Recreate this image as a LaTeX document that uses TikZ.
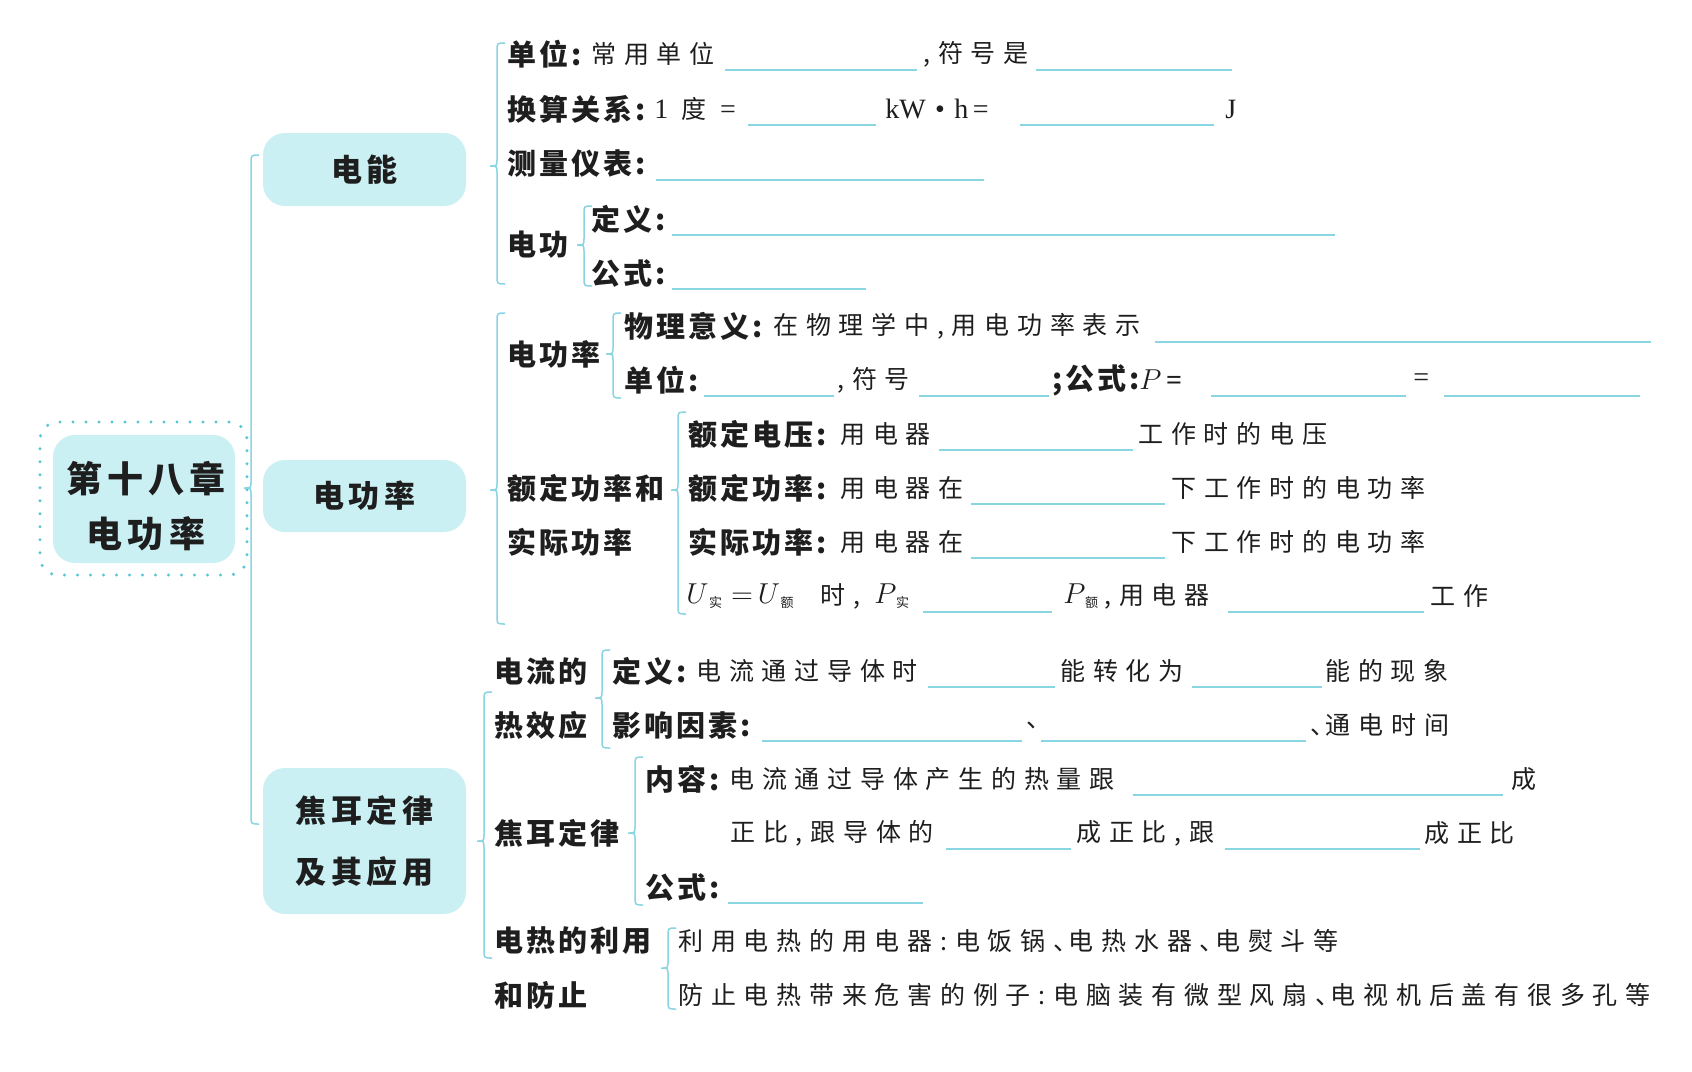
\documentclass[tikz,border=0pt]{standalone}
\usepackage{fontspec}
\setmainfont{Liberation Serif}
\newfontfamily\cjkL[LetterSpace=10]{Noto Sans CJK SC}
\newfontfamily\cjkT[LetterSpace=31]{Noto Sans CJK SC}
\newfontfamily\cjkH[LetterSpace=14]{Noto Sans CJK SC}
\newcommand\lblf{\cjkL\bfseries\fontsize{14.5pt}{16pt}\selectfont}
\newcommand\txtf{\cjkT\fontsize{12.5pt}{16pt}\selectfont}
\newcommand\lvtf{\cjkH\bfseries\fontsize{15.5pt}{30.5pt}\selectfont}
\newcommand\rootf{\cjkH\bfseries\fontsize{18pt}{27.5pt}\selectfont}
\newcommand\subc[1]{\mbox{\cjkT\fontsize{6.5pt}{7pt}\selectfont #1}}
\newcommand\mth[1]{{\fontsize{15pt}{16pt}\selectfont$#1$}}
\newcommand\lat[1]{{\rmfamily\fontsize{14pt}{16pt}\selectfont #1}}
\newcommand\dun{、\kern-0.38em}
\definecolor{ink}{HTML}{1E1E1E}
\definecolor{lncol}{HTML}{8AD5E2}
\definecolor{boxcol}{HTML}{CBF0F4}
\definecolor{dotcol}{HTML}{55C6D6}
\newcommand\brc[5]{%
  \coordinate (#1t) at (#2+8,#3);
  \coordinate (#1p) at (#2-7,#4);
  \coordinate (#1b) at (#2+8,#5);
  \draw[brline] (#1t) .. controls (#2,#3) .. (#2,#3+8) -- (#2,#4-7)
     .. controls (#2,#4) .. (#1p) .. controls (#2,#4) .. (#2,#4+7)
     -- (#2,#5-8) .. controls (#2,#5) .. (#1b);}
\tikzset{
  lbl/.style={anchor=west, inner sep=0pt, font=\lblf, text=ink},
  txt/.style={anchor=west, inner sep=0pt, font=\txtf, text=ink},
  blank/.style={draw=lncol, line width=0.8pt},
  brline/.style={draw=lncol, line width=0.75pt},
  lvtwo/.style={fill=boxcol, rounded corners=11pt, inner sep=0pt,
     minimum width=101.5pt, font=\lvtf, text=ink, align=center},
}
\begin{document}
\begin{tikzpicture}[x=0.5pt,y=-0.5pt]
\useasboundingbox[fill=white] (0,0) rectangle (1692,1071);
% root
\node[draw=dotcol, line width=1.7pt, dash pattern=on 0pt off 6.5pt, line cap=round,
      rounded corners=9pt, minimum width=103.5pt, minimum height=76.5pt, inner sep=0pt]
      (rootframe) at (143.5,498.5) {};
\node[fill=boxcol, rounded corners=11pt, minimum width=91pt, minimum height=64pt,
      inner sep=0pt] (rootbox) at (144,499) {};
\node[font=\rootf, text=ink, align=center, inner sep=0pt] (root) at (146,506) {第十八章\\电功率};
% level 2
\node[lvtwo, minimum height=36.5pt] (dn) at (364.5,169.5) {电能};
\node[lvtwo, minimum height=36pt] (dgl) at (364.5,496) {电功率};
\node[lvtwo, minimum height=73pt] (jr) at (364.5,841) {焦耳定律\\及其应用};
% spine
\brc{sp}{251}{155}{488}{824}
% ---------- 电能 ----------
\brc{bA}{497}{43}{166}{284}
\node[lbl] (a1) at (507,54) {单位:};
\node[txt] (a1t) at (591,54) {常用单位};
\draw[blank] (725,70) -- (917,70);
\node[txt] (a1u) at (923,54) {,符号是};
\draw[blank] (1036,70) -- (1232,70);
\node[lbl] (a2) at (507,109) {换算关系:};
\node[txt] (a2t) at (654,109) {\lat{1} 度 \lat{=}};
\draw[blank] (748,125) -- (876,125);
\node[txt] (a2u) at (885,109) {\lat{kW\,\,•\,\,h\,=}};
\draw[blank] (1020,125) -- (1214,125);
\node[txt] (a2j) at (1225,109) {\lat{J}};
\node[lbl] (a3) at (507,164) {测量仪表:};
\draw[blank] (656,180) -- (984,180);
\node[lbl] (a4) at (507,245) {电功};
\brc{bB}{584}{206}{245}{286}
\node[lbl] (a5) at (591,219) {定义:};
\draw[blank] (672,235) -- (1335,235);
\node[lbl] (a6) at (591,273) {公式:};
\draw[blank] (672,289) -- (866,289);
% ---------- 电功率 ----------
\brc{bC}{497}{313}{490}{624}
\node[lbl] (b1) at (507,354) {电功率};
\brc{bD}{613}{313}{354}{398}
\node[lbl] (b2) at (624,326) {物理意义:};
\node[txt] (b2t) at (773,326) {在物理学中,用电功率表示};
\draw[blank] (1155,342) -- (1651,342);
\node[lbl] (b3) at (624,380) {单位:};
\draw[blank] (704,396) -- (834,396);
\node[txt] (b3a) at (837,380) {,符号};
\draw[blank] (919,396) -- (1049,396);
\node[lbl] (b3b) at (1052,380) {;公式:\mth{P}\lat{\,=}};
\draw[blank] (1211,396) -- (1406,396);
\node[txt] (b3c) at (1413,380) {\lat{=}};
\draw[blank] (1444,396) -- (1640,396);
\node[lbl] (b4) at (507,488) {额定功率和};
\node[lbl] (b5) at (507,542) {实际功率};
\brc{bE}{678}{412}{490}{614}
\node[lbl] (b6) at (688,434) {额定电压:};
\node[txt] (b6t) at (840,434) {用电器};
\draw[blank] (939,450) -- (1133,450);
\node[txt] (b6u) at (1138,434) {工作时的电压};
\node[lbl] (b7) at (688,488) {额定功率:};
\node[txt] (b7t) at (840,488) {用电器在};
\draw[blank] (971,504) -- (1165,504);
\node[txt] (b7u) at (1171,488) {下工作时的电功率};
\node[lbl] (b8) at (688,542) {实际功率:};
\node[txt] (b8t) at (840,542) {用电器在};
\draw[blank] (971,558) -- (1165,558);
\node[txt] (b8u) at (1171,542) {下工作时的电功率};
\node[txt] (b9) at (686,596) {\mth{U_{\,\subc{实}}\;{=}\,U_{\,\subc{额}}}};
\node[txt] (b9a) at (820,596) {时,};
\node[txt] (b9b) at (874,596) {\mth{P_{\,\subc{实}}}};
\draw[blank] (923,612) -- (1052,612);
\node[txt] (b9c) at (1063,596) {\mth{P_{\,\subc{额}}}};
\node[txt] (b9d) at (1104,596) {,用电器};
\draw[blank] (1228,612) -- (1424,612);
\node[txt] (b9e) at (1430,596) {工作};
% ---------- 焦耳定律 ----------
\brc{bF}{484}{692}{841}{958}
\node[lbl] (c1) at (494,671) {电流的};
\node[lbl] (c2) at (494,725) {热效应};
\brc{bG}{602}{650}{698}{748}
\node[lbl] (c3) at (612,671) {定义:};
\node[txt] (c3t) at (696,671) {电流通过导体时};
\draw[blank] (928,687) -- (1055,687);
\node[txt] (c3u) at (1060,671) {能转化为};
\draw[blank] (1192,687) -- (1322,687);
\node[txt] (c3v) at (1325,671) {能的现象};
\node[lbl] (c4) at (612,725) {影响因素:};
\draw[blank] (762,741) -- (1022,741);
\node[txt] (c4a) at (1026,725) {、};
\draw[blank] (1041,741) -- (1306,741);
\node[txt] (c4b) at (1310,725) {\dun 通电时间};
\node[lbl] (c5) at (494,833) {焦耳定律};
\brc{bH}{635}{757}{833}{905}
\node[lbl] (c6) at (645,779) {内容:};
\node[txt] (c6t) at (729,779) {电流通过导体产生的热量跟};
\draw[blank] (1133,795) -- (1503,795);
\node[txt] (c6u) at (1511,779) {成};
\node[txt] (c7) at (730,833) {正比,跟导体的};
\draw[blank] (946,849) -- (1071,849);
\node[txt] (c7a) at (1076,833) {成正比,跟};
\draw[blank] (1225,849) -- (1420,849);
\node[txt] (c7b) at (1424,833) {成正比};
\node[lbl] (c8) at (645,887) {公式:};
\draw[blank] (728,903) -- (923,903);
\node[lbl] (c9) at (494,941) {电热的利用};
\node[lbl] (c10) at (494,995) {和防止};
\brc{bI}{668}{928}{968}{1009}
\node[txt] (c11) at (678,941) {利用电热的用电器:电饭锅\dun 电热水器\dun 电熨斗等};
\node[txt] (c12) at (678,995) {防止电热带来危害的例子:电脑装有微型风扇\dun 电视机后盖有很多孔等};
\end{tikzpicture}
\end{document}
